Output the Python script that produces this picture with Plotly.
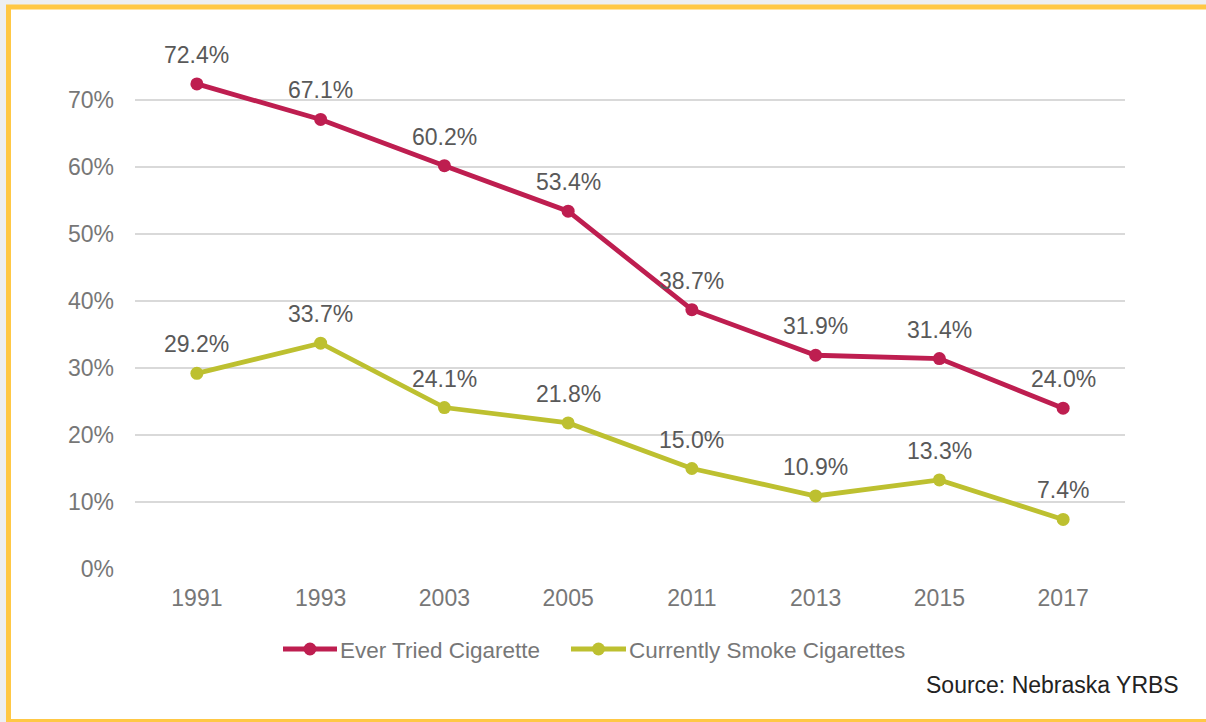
import plotly.graph_objects as go

years = ["1991", "1993", "2003", "2005", "2011", "2013", "2015", "2017"]
ever_tried = [72.4, 67.1, 60.2, 53.4, 38.7, 31.9, 31.4, 24.0]
current = [29.2, 33.7, 24.1, 21.8, 15.0, 10.9, 13.3, 7.4]
series_names = ["Ever Tried Cigarette", "Currently Smoke Cigarettes"]
y_ticks = [0, 10, 20, 30, 40, 50, 60, 70]
y_tick_text = [f"{v}%" for v in y_ticks]
source_text = "Source: Nebraska YRBS"

RED = "#BE1E50"
OLIVE = "#BDC030"
COLORS = [RED, OLIVE]
W, H = 1206, 722
L, R, T, B = 135, 81, 33, 153
pw, ph = W - L - R, H - T - B
FONT = "Liberation Sans, Arial"

def px_x(p):
    return (p - L) / pw

def px_y(p):
    return (H - B - p) / ph

fig = go.Figure()
for name, vals, col in zip(series_names, [ever_tried, current], COLORS):
    fig.add_trace(go.Scatter(
        x=years, y=vals, name=name, mode="lines+markers",
        line=dict(color=col, width=4.8),
        marker=dict(color=col, size=13),
        showlegend=False,
    ))

annotations = []
for vals in (ever_tried, current):
    for i, v in enumerate(vals):
        annotations.append(dict(
            x=i, y=v, text=f"{v:.1f}%", showarrow=False,
            xanchor="center", yanchor="middle", yshift=29,
            font=dict(family=FONT, size=23, color="#595959"),
        ))
annotations.append(dict(
    x=px_x(1181), y=px_y(685), xref="paper", yref="paper", text=source_text,
    showarrow=False, xanchor="right", yanchor="middle",
    font=dict(family=FONT, size=23, color="#222222"),
))

shapes = [dict(
    type="rect", xref="paper", yref="paper", layer="below",
    x0=px_x(8.5), x1=px_x(1220), y0=px_y(7), y1=px_y(721.5),
    line=dict(color="#FFC845", width=5), fillcolor="white",
)]

# custom legend (symbol line + dot + label)
legend_y = 649
legend_items = [(283, 337), (571, 626)]
for (lx0, lx1), name, col in zip(legend_items, series_names, COLORS):
    shapes.append(dict(
        type="line", xref="paper", yref="paper",
        x0=px_x(lx0), x1=px_x(lx1), y0=px_y(legend_y), y1=px_y(legend_y),
        line=dict(color=col, width=4.8),
    ))
    cx = (lx0 + lx1) / 2
    shapes.append(dict(
        type="circle", xref="paper", yref="paper",
        x0=px_x(cx - 6.5), x1=px_x(cx + 6.5),
        y0=px_y(legend_y + 6.5), y1=px_y(legend_y - 6.5),
        line=dict(width=0), fillcolor=col,
    ))
    annotations.append(dict(
        x=px_x(lx1 + 1), y=px_y(legend_y + 1), xref="paper", yref="paper", text=name,
        showarrow=False, xanchor="left", yanchor="middle",
        font=dict(family=FONT, size=22.5, color="#777777"),
    ))

fig.update_layout(
    width=W, height=H,
    margin=dict(l=L, r=R, t=T, b=B, pad=0),
    paper_bgcolor="#EDEFF2", plot_bgcolor="rgba(0,0,0,0)",
    font=dict(family=FONT, color="#777777"),
    showlegend=False,
    annotations=annotations,
    shapes=shapes,
    xaxis=dict(
        type="category", range=[-0.5, 7.5], showgrid=False, showline=False,
        ticks="", tickfont=dict(size=23, color="#777777"), ticklabelstandoff=13,
        zeroline=False,
    ),
    yaxis=dict(
        range=[0, 80], tickvals=y_ticks, ticktext=y_tick_text,
        showgrid=True, gridcolor="#D9D9D9", gridwidth=1.5,
        zeroline=False, showline=False, ticks="",
        tickfont=dict(size=23, color="#777777"), ticklabelstandoff=20,
    ),
)

fig.write_html(
    "out.html",
    config={"displayModeBar": False},
    post_script="document.body.style.margin='0';document.body.style.background='#EDEFF2';",
)
